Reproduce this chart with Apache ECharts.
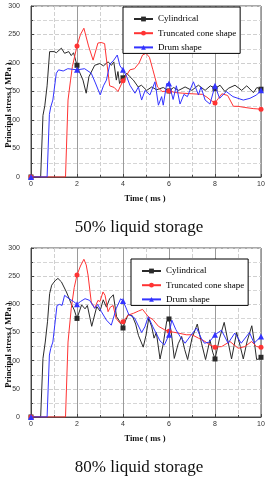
<!DOCTYPE html>
<html>
<head>
<meta charset="utf-8">
<script src="https://cdn.jsdelivr.net/npm/echarts@6/dist/echarts.min.js"></script>
<style>
html,body{margin:0;padding:0;background:#fff;}
#c{width:268px;height:480px;}
</style>
</head>
<body>
<div id="c"></div>
<script>
// ---- data ----
const seriesNames = ['Cylindrical', 'Truncated cone shape', 'Drum shape'];
const captions = ['50% liquid storage', '80% liquid storage'];
const xTitle = 'Time ( ms )';
const yTitle = 'Principal stress ( MPa )';
const markerTimes = [0, 2, 4, 6, 8, 10];

// 50% liquid storage
const cyl50T = [0,0.42,0.52,0.6,0.7,0.81,1.0,1.1,1.32,1.46,1.64,1.75,1.85,2,2.1,2.26,2.4,2.52,2.77,2.99,3.15,3.35,3.5,3.6,3.71,3.78,3.85,4,4.16,4.3,4.45,4.66,4.8,5.03,5.25,5.46,5.75,6,6.2,6.42,6.7,6.99,7.28,7.57,7.8,8,8.22,8.43,8.6,8.87,9.16,9.38,9.67,9.82,10];
const cyl50V = [0,0,108,125,160,220,220,218,226,217,220,213,218,196,185,170,147,176,196,199,195,202,196,202,170,185,164,174,182,176,170,158,161,152,158,153,157,151,157,152,158,152,161,152,160,155,161,150,156,161,152,160,148,157,154];
const trunc50T = [0,1.5,1.61,1.72,1.8,2,2.15,2.3,2.5,2.7,2.91,3.05,3.2,3.3,3.42,3.5,3.62,3.78,4,4.15,4.3,4.5,4.7,4.85,5,5.15,5.3,5.5,5.7,6,6.3,6.6,7,7.45,7.65,7.8,8,8.15,8.3,8.55,8.8,9,9.3,9.66,10];
const trunc50V = [0,0,135,170,194,230,250,261,230,205,235,236,234,200,160,158,157,150,169,178,188,190,200,214,217,210,188,158,150,151,148,147,146,145,140,135,130,138,146,143,124,124,122,120,119];
const drum50T = [0,0.7,0.8,0.86,0.95,1.1,1.2,1.4,1.6,1.8,2,2.33,2.62,2.8,3.01,3.15,3.28,3.43,3.6,3.75,3.87,4,4.16,4.3,4.52,4.67,4.81,4.96,5.17,5.39,5.54,5.68,5.75,5.9,6,6.18,6.32,6.48,6.65,6.8,7.06,7.28,7.39,7.57,7.78,8,8.2,8.49,8.78,9.0,9.23,9.52,9.81,10];
const drum50V = [0,0,110,123,135,182,188,186,190,189,188,190,182,165,144,160,170,198,205,214,195,188,176,161,147,158,135,152,144,167,126,141,126,164,164,136,160,128,145,141,167,144,158,135,128,160,138,150,141,138,135,138,144,152];

// 80% liquid storage
const cyl80T = [0,0.42,0.52,0.62,0.72,0.81,0.9,1.05,1.17,1.32,1.54,1.75,1.88,2,2.2,2.35,2.45,2.64,2.86,3,3.14,3.28,3.42,3.58,3.72,3.85,4,4.12,4.23,4.4,4.55,4.67,4.88,5,5.12,5.25,5.35,5.45,5.61,5.75,5.9,6,6.1,6.23,6.4,6.55,6.68,6.81,7,7.23,7.42,7.59,7.78,7.9,8,8.2,8.4,8.56,8.72,8.94,9.1,9.23,9.4,9.6,9.72,9.81,9.9,10];
const cyl80V = [0,0,104,133,170,219,234,242,246,240,222,201,190,175,199,192,198,161,196,188,208,195,210,217,178,170,158,172,182,180,165,145,124,145,175,160,140,150,103,130,170,174,150,104,130,143,120,102,140,165,130,102,137,115,103,140,168,135,103,150,125,103,135,162,130,102,103,106];
const trunc80T = [0,1.5,1.61,1.75,1.88,2,2.15,2.3,2.4,2.48,2.62,2.77,2.91,3,3.13,3.22,3.35,3.45,3.57,3.7,3.86,4,4.23,4.45,4.67,4.85,5.1,5.3,5.54,5.8,6,6.4,6.75,7,7.28,7.57,7.78,8,8.29,8.65,9.01,9.3,9.59,9.81,10];
const trunc80V = [0,0,133,193,230,252,268,280,270,252,204,193,207,205,222,216,187,195,198,175,167,169,181,184,188,191,178,173,161,155,152,149,146,146,140,134,128,124,125,134,122,125,134,125,124];
const drum80T = [0,0.7,0.8,0.86,0.95,1.13,1.25,1.35,1.46,1.65,1.85,2,2.15,2.35,2.55,2.77,2.9,3.06,3.28,3.49,3.71,3.9,4,4.12,4.25,4.5,4.81,4.95,5.1,5.3,5.61,5.8,6,6.12,6.3,6.48,6.7,6.95,7.2,7.4,7.54,7.75,8,8.28,8.57,8.86,9.14,9.5,9.7,10];
const drum80V = [0,0,110,122,133,198,200,198,216,210,205,200,205,210,207,193,200,187,172,163,193,210,206,195,182,176,150,160,178,160,135,128,146,172,155,143,131,145,158,140,131,133,146,154,131,149,131,150,131,143];

// ---- styling ----
const colors = ['#2a2a2a', '#ff3333', '#3333ff'];
const symbols = ['rect', 'circle', 'triangle'];
const symbolSizes = [5, 5, 6];

function pts(T, V, sym) {
  return T.map((t, i) => ({
    value: [t, V[i]],
    symbol: markerTimes.indexOf(t) >= 0 ? sym : 'none'
  }));
}

function mkSeries(k, gi, T, V) {
  return {
    type: 'line',
    name: seriesNames[k],
    xAxisIndex: gi, yAxisIndex: gi,
    data: pts(T, V, symbols[k]),
    symbol: symbols[k],
    symbolSize: symbolSizes[k],
    showAllSymbol: true,
    animation: false,
    lineStyle: {color: colors[k], width: 1},
    itemStyle: {color: colors[k]},
    z: 2 + k
  };
}

const tickFont = {fontSize: 7, color: '#333', fontFamily: 'Liberation Sans'};

function xAx(gi) {
  return {
    type: 'value', gridIndex: gi, min: 0, max: 10, interval: 2,
    axisLine: {lineStyle: {color: '#444'}},
    axisTick: {inside: true, length: 3, lineStyle: {color: '#444'}},
    minorTick: {show: true, splitNumber: 2, length: 2, lineStyle: {color: '#444'}},
    axisLabel: Object.assign({margin: 4}, tickFont),
    splitLine: {show: true, lineStyle: {color: '#9a9a9a', width: 1}},
    minorSplitLine: {show: true, lineStyle: {color: '#d0d0d0', type: 'dashed', width: 1}}
  };
}
function yAx(gi) {
  return {
    type: 'value', gridIndex: gi, min: 0, max: 300, interval: 50,
    axisLine: {show: true, lineStyle: {color: '#444'}},
    axisTick: {show: true, inside: true, length: 3, lineStyle: {color: '#444'}},
    minorTick: {show: true, splitNumber: 2, length: 2, lineStyle: {color: '#444'}},
    axisLabel: Object.assign({margin: 11}, tickFont),
    splitLine: {show: true, lineStyle: {color: '#cfcfcf', type: 'dashed', width: 1}},
    minorSplitLine: {show: true, lineStyle: {color: '#d6d6d6', type: 'dashed', width: 1}}
  };
}

function legendAt(left, top) {
  return {
    data: seriesNames, orient: 'vertical', left: left, top: top,
    itemWidth: 19, itemHeight: 6, itemGap: 4.2,
    padding: [7, 4, 1, 10],
    borderColor: '#000', borderWidth: 1, backgroundColor: '#fff',
    selectedMode: false,
    textStyle: {fontFamily: 'Liberation Serif', fontSize: 9, color: '#000', lineHeight: 10}
  };
}

function txt(x, y, s, font, rot) {
  return {
    type: 'text', x: x, y: y, rotation: rot || 0, silent: true,
    style: {text: s, font: font, fill: '#111', textAlign: 'center', textVerticalAlign: 'middle'}
  };
}

const chart = echarts.init(document.getElementById('c'), null, {renderer: 'canvas'});
chart.setOption({
  backgroundColor: '#fff',
  animation: false,
  grid: [
    {left: 31, top: 6, width: 230, height: 171, show: true, borderColor: '#555', borderWidth: 1, backgroundColor: '#fff'},
    {left: 31, top: 248, width: 230, height: 169, show: true, borderColor: '#555', borderWidth: 1, backgroundColor: '#fff'}
  ],
  xAxis: [xAx(0), xAx(1)],
  yAxis: [yAx(0), yAx(1)],
  legend: [legendAt(123, 7), legendAt(131, 259)],
  graphic: [
    txt(9, 105, yTitle, 'bold 8.5px "Liberation Serif"', Math.PI / 2),
    txt(9, 345, yTitle, 'bold 8.5px "Liberation Serif"', Math.PI / 2),
    txt(145, 199, xTitle, 'bold 8.5px "Liberation Serif"'),
    txt(145, 439, xTitle, 'bold 8.5px "Liberation Serif"'),
    txt(139, 228, captions[0], '17px "Liberation Serif"'),
    txt(139, 468, captions[1], '17px "Liberation Serif"')
  ],
  series: [
    mkSeries(0, 0, cyl50T, cyl50V),
    mkSeries(1, 0, trunc50T, trunc50V),
    mkSeries(2, 0, drum50T, drum50V),
    mkSeries(0, 1, cyl80T, cyl80V),
    mkSeries(1, 1, trunc80T, trunc80V),
    mkSeries(2, 1, drum80T, drum80V)
  ]
});
</script>
</body>
</html>
